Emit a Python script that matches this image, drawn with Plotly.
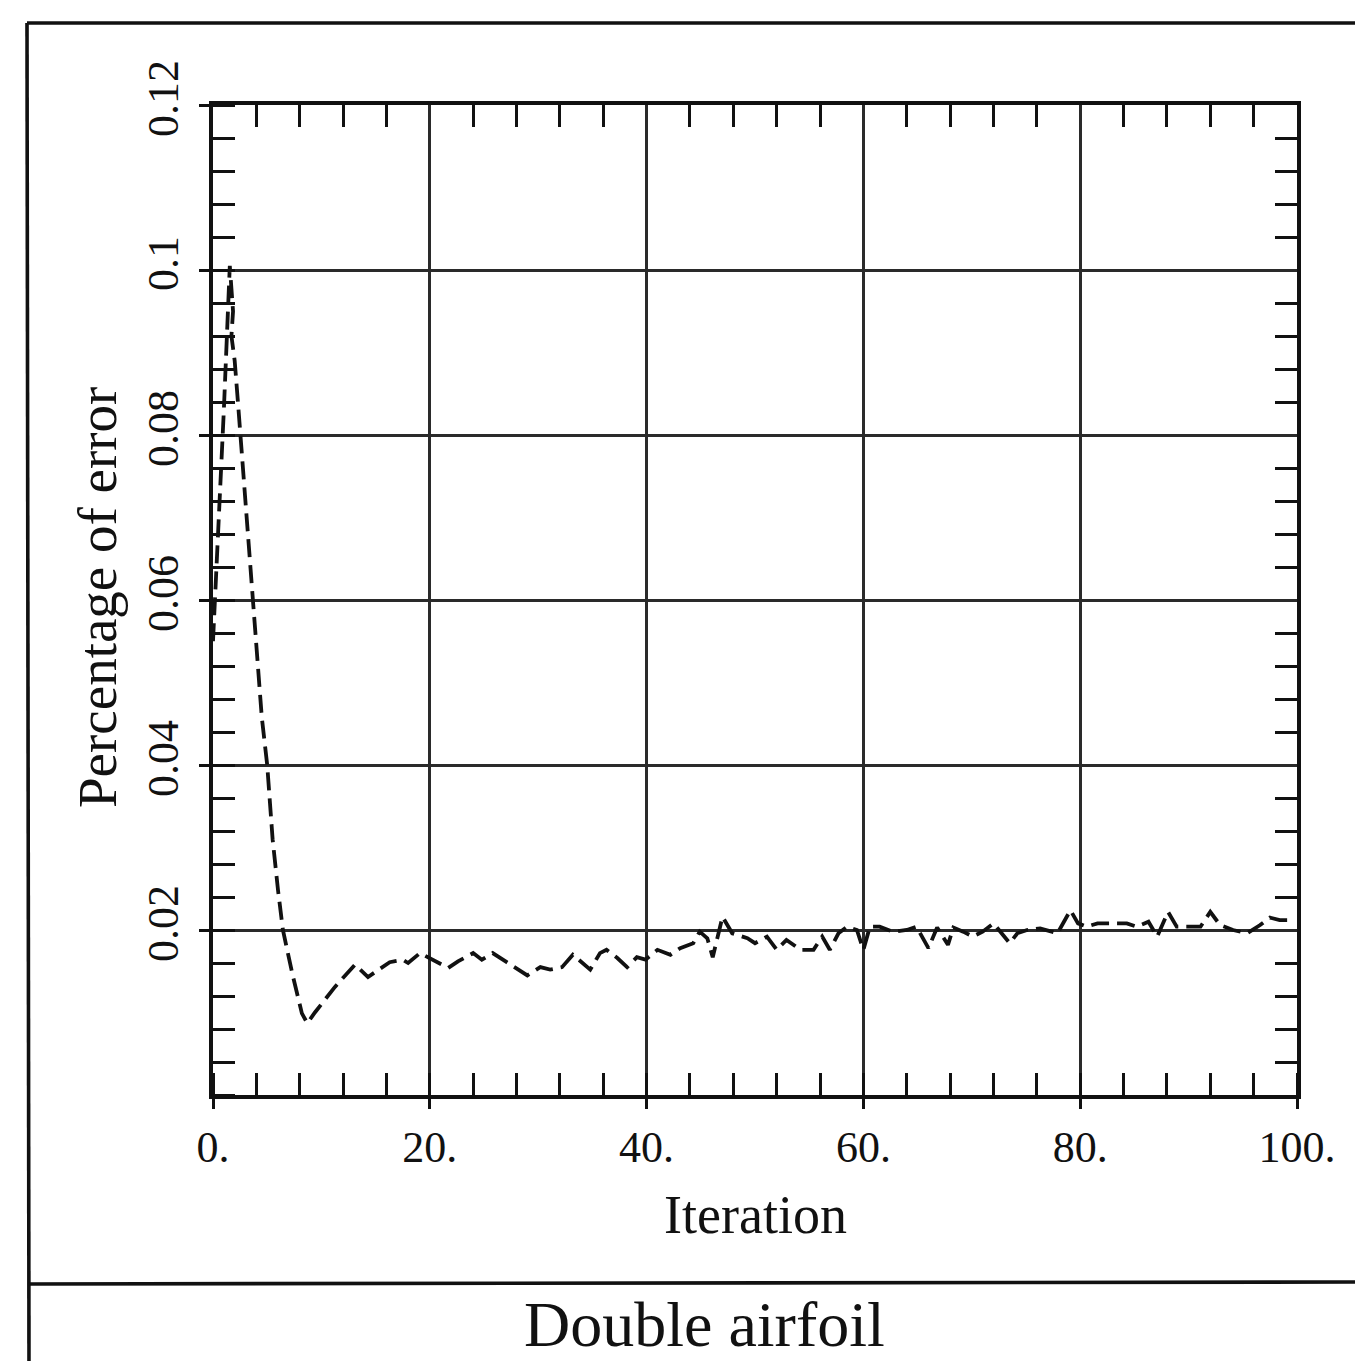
import plotly.graph_objects as go

# Convergence history: percentage of error versus iteration
iteration = [0, 0.5, 1.0, 1.55, 1.85, 1.7, 2.0, 2.3, 2.95, 3.6, 4.06, 4.5, 5.0, 5.5, 6.0,
             6.45, 7.3, 8.2, 8.7, 9.4, 11.25, 13.1, 14.3, 16.3, 17.5, 18.0, 19.1, 19.8,
             20.7, 21.7, 22.6, 24.0, 24.8, 25.8, 27.1, 29.0, 30.2, 31.1, 32.2, 33.2,
             34.8, 35.7, 36.3, 37.3, 38.2, 39.1, 39.9, 41.0, 42.2, 43.1, 44.3, 44.9,
             45.6, 46.1, 47.0, 47.9, 49.3, 50.0, 51.1, 52.0, 52.9, 54.2, 55.4, 56.2,
             56.9, 57.7, 58.5, 59.4, 60.0, 60.6, 61.5, 62.7, 64.0, 64.9, 66.0, 66.8,
             67.8, 68.3, 69.2, 70.1, 71.0, 72.0, 73.5, 74.2, 75.1, 76.3, 77.9, 79.1,
             79.8, 80.6, 81.6, 83.0, 84.3, 85.2, 86.3, 87.1, 88.1, 88.9, 89.9, 91.1,
             92.0, 92.9, 94.1, 95.4, 96.6, 97.5, 98.4, 99.2]
error = [0.055, 0.068, 0.083, 0.1005, 0.095, 0.092, 0.089, 0.084, 0.073, 0.061, 0.054,
         0.0458, 0.040, 0.031, 0.0248, 0.020, 0.0148, 0.0099, 0.0087, 0.0100, 0.0131,
         0.0158, 0.0143, 0.0161, 0.0164, 0.0160, 0.0172, 0.0167, 0.0161, 0.0154,
         0.0162, 0.0172, 0.0164, 0.0172, 0.0161, 0.0145, 0.0155, 0.0152, 0.0155,
         0.0170, 0.0152, 0.0172, 0.0176, 0.0166, 0.0155, 0.0167, 0.0164, 0.0176,
         0.0170, 0.0178, 0.0184, 0.0198, 0.0190, 0.0167, 0.0216, 0.0196, 0.0190,
         0.0184, 0.0192, 0.0176, 0.0188, 0.0176, 0.0176, 0.0192, 0.0176, 0.0196,
         0.0204, 0.0200, 0.0176, 0.0204, 0.0204, 0.0198, 0.0200, 0.0204, 0.0178,
         0.0203, 0.0182, 0.0203, 0.0198, 0.0192, 0.0198, 0.0208, 0.0184, 0.0196,
         0.0200, 0.0202, 0.0196, 0.0224, 0.0208, 0.0204, 0.0208, 0.0208, 0.0208,
         0.0204, 0.0210, 0.0192, 0.0222, 0.0204, 0.0204, 0.0204, 0.0222, 0.0206,
         0.0200, 0.0196, 0.0206, 0.0215, 0.0212, 0.0212]

x_ticks = [0, 20, 40, 60, 80, 100]
x_tick_text = ["0.", "20.", "40.", "60.", "80.", "100."]
y_ticks = [0.02, 0.04, 0.06, 0.08, 0.10, 0.12]
y_tick_text = ["0.02", "0.04", "0.06", "0.08", "0.1", "0.12"]
x_range = [0, 100]
y_range = [0, 0.12]

W, H = 1355, 1361
L, R, T, B = 213, 1297, 105, 1095
SERIF = "Liberation Serif, Times New Roman, serif"
INK = "#111111"


def px_x(px):
    return (px - L) / (R - L)


def px_y(py):
    return (B - py) / (B - T)


fig = go.Figure()
fig.add_trace(go.Scatter(
    x=iteration, y=error, mode="lines",
    line=dict(color=INK, width=3.8, dash="18px,8px"),
    showlegend=False, hoverinfo="skip",
))
# Invisible companion trace so the top/right tick axes are drawn
fig.add_trace(go.Scatter(
    x=x_range, y=y_range, xaxis="x2", yaxis="y2", mode="lines",
    line=dict(width=0), opacity=0, showlegend=False, hoverinfo="skip",
))

tick_font = dict(family=SERIF, size=44, color=INK)
minor_x = dict(dtick=4, tick0=0, ticks="inside", ticklen=22, tickwidth=2.6,
               tickcolor=INK, showgrid=False)
minor_y = dict(dtick=0.004, tick0=0, ticks="inside", ticklen=22, tickwidth=2.6,
               tickcolor=INK, showgrid=False)

fig.update_layout(
    xaxis=dict(
        range=x_range, tickvals=x_ticks, ticktext=x_tick_text,
        showline=True, linecolor=INK, linewidth=3.6, mirror=True,
        ticks="outside", ticklen=10, tickwidth=2.6, tickcolor=INK,
        showgrid=True, gridcolor="#2a2a2a", gridwidth=2.6, zeroline=False,
        minor=minor_x, tickfont=tick_font, ticklabelstandoff=0,
    ),
    yaxis=dict(
        range=y_range, tickvals=y_ticks, ticktext=y_tick_text, tickangle=-90,
        showline=True, linecolor=INK, linewidth=3.6, mirror=True,
        ticks="outside", ticklen=10, tickwidth=2.6, tickcolor=INK,
        showgrid=True, gridcolor="#2a2a2a", gridwidth=2.6, zeroline=False,
        minor=minor_y, tickfont=tick_font, ticklabelstandoff=4,
    ),
    xaxis2=dict(
        range=x_range, overlaying="x", side="top", showticklabels=False,
        showgrid=False, zeroline=False, ticks="", minor=minor_x,
    ),
    yaxis2=dict(
        range=y_range, overlaying="y", side="right", showticklabels=False,
        showgrid=False, zeroline=False, ticks="", minor=minor_y,
    ),
)

# Outer frame and caption separator
frame = dict(color=INK, width=3.6)
fig.add_shape(type="line", xref="paper", yref="paper",
              x0=px_x(27), y0=px_y(23), x1=px_x(1360), y1=px_y(23), line=frame)
fig.add_shape(type="line", xref="paper", yref="paper",
              x0=px_x(27), y0=px_y(23), x1=px_x(29), y1=px_y(1365), line=frame)
fig.add_shape(type="line", xref="paper", yref="paper",
              x0=px_x(28), y0=px_y(1284), x1=px_x(1360), y1=px_y(1282), line=frame)

fig.add_annotation(text="Iteration", xref="paper", yref="paper",
                   x=px_x(755), y=px_y(1215), showarrow=False,
                   xanchor="center", yanchor="middle",
                   font=dict(family=SERIF, size=54, color=INK))
fig.add_annotation(text="Percentage of error", xref="paper", yref="paper",
                   x=px_x(97), y=px_y(598), showarrow=False, textangle=-90,
                   xanchor="center", yanchor="middle",
                   font=dict(family=SERIF, size=55, color=INK))
fig.add_annotation(text="Double airfoil", xref="paper", yref="paper",
                   x=px_x(704), y=px_y(1324), showarrow=False,
                   xanchor="center", yanchor="middle",
                   font=dict(family=SERIF, size=64, color=INK))

fig.update_layout(
    width=W, height=H,
    margin=dict(l=L, r=W - R, t=T, b=H - B, pad=0),
    paper_bgcolor="white", plot_bgcolor="white",
)

fig.write_html("out.html")
